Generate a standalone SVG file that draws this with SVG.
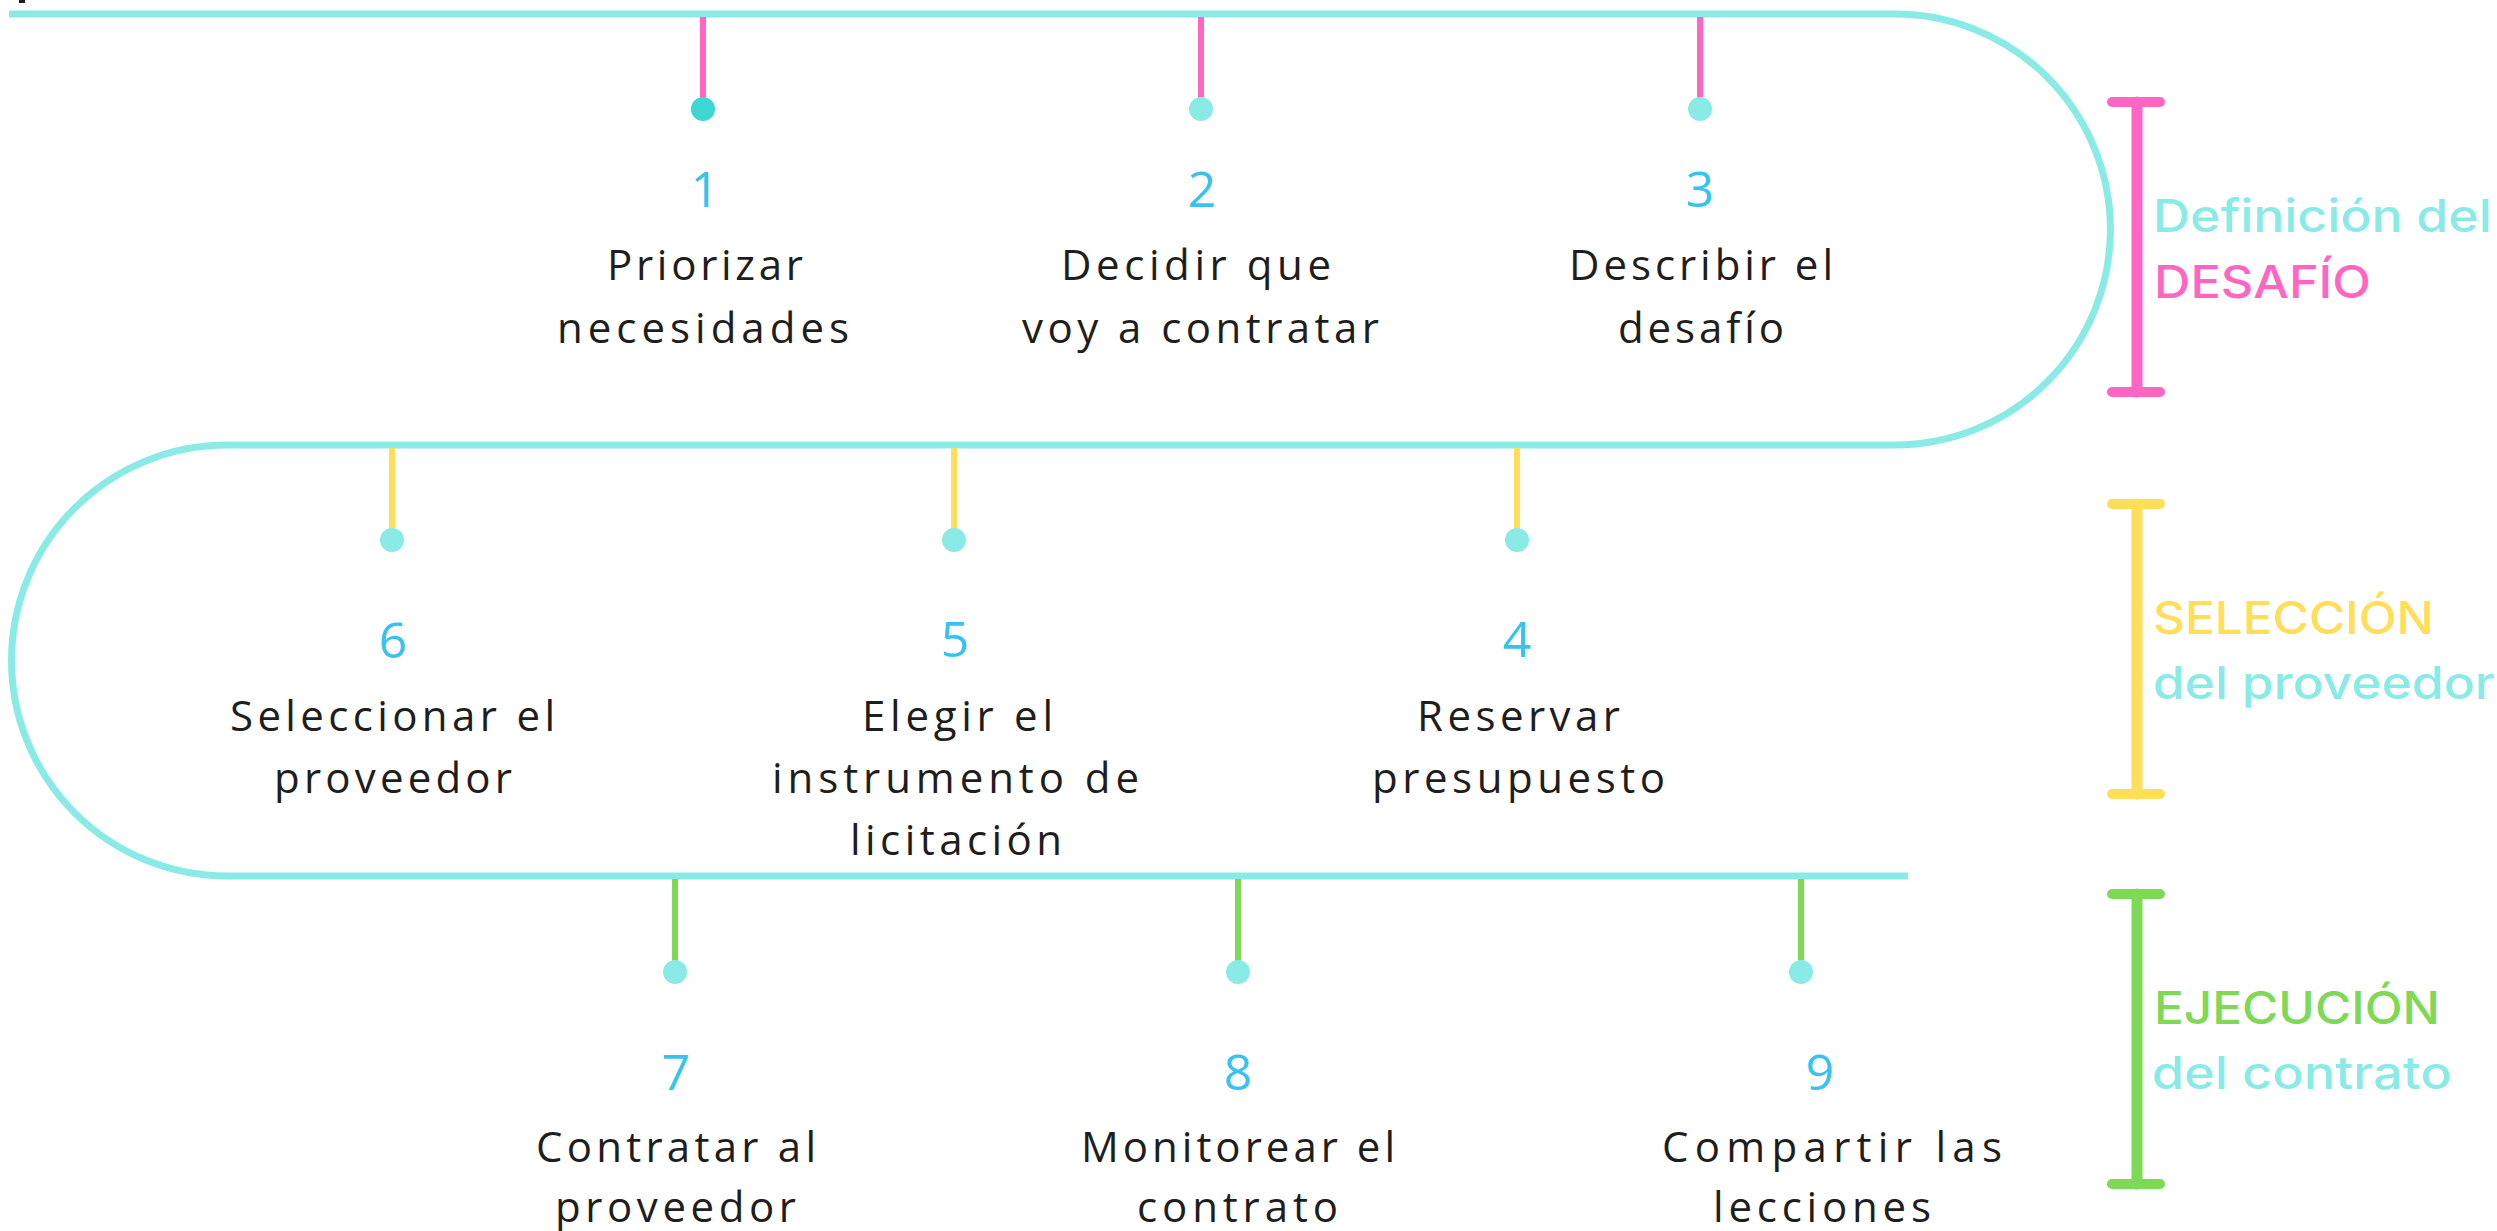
<svg xmlns="http://www.w3.org/2000/svg" width="2497" height="1231" viewBox="0 0 2497 1231">
<style>
.track{fill:none;stroke:#8AEBE6;stroke-width:7}
.tp{stroke:#FF66C4;stroke-width:6}
.ty{stroke:#FFDE59;stroke-width:6}
.tg{stroke:#7ED957;stroke-width:6}
.dot{fill:#8AEBE6}
.dotd{fill:#3DD8D5}
.num{font-family:"Open Sans","Liberation Sans",sans-serif;font-size:50px;fill:#38C2F2;text-anchor:middle}
.lbl{font-family:"Open Sans","Liberation Sans",sans-serif;font-size:42px;fill:#1E1E1E}
.side{font-family:Inter,"Open Sans","Liberation Sans",sans-serif;font-size:45px;font-weight:500}
.bp{stroke:#FF66C4;stroke-linecap:round;fill:none}
.by{stroke:#FFDE59;stroke-linecap:round;fill:none}
.bg{stroke:#7ED957;stroke-linecap:round;fill:none}
</style>
<rect x="0" y="0" width="2497" height="1231" fill="#FFFFFF"/>
<rect x="19" y="0" width="6" height="3" fill="#1E1E1E"/>
<g id="connectors">
<path class="track" d="M 9 14 H 1895 A 215.5 215.5 0 0 1 1895 445 H 227 A 215.5 215.5 0 0 0 227 876 H 1908"/>
</g>
<g id="step1">
<line class="tp" x1="703" y1="17" x2="703" y2="105"/>
<circle class="dotd" cx="703" cy="109" r="12"/>
<text class="num" x="705" y="207">1</text>
<text class="lbl" x="607" y="280" textLength="196" lengthAdjust="spacing">Priorizar</text>
<text class="lbl" x="557" y="343" textLength="292" lengthAdjust="spacing">necesidades</text>
</g>
<g id="step2">
<line class="tp" x1="1201" y1="17" x2="1201" y2="105"/>
<circle class="dot" cx="1201" cy="109" r="12"/>
<text class="num" x="1202" y="207">2</text>
<text class="lbl" x="1061" y="280" textLength="270" lengthAdjust="spacing">Decidir que</text>
<text class="lbl" x="1022" y="343" textLength="357" lengthAdjust="spacing">voy a contratar</text>
</g>
<g id="step3">
<line class="tp" x1="1700" y1="17" x2="1700" y2="105"/>
<circle class="dot" cx="1700" cy="109" r="12"/>
<text class="num" x="1700" y="207">3</text>
<text class="lbl" x="1569" y="280" textLength="264" lengthAdjust="spacing">Describir el</text>
<text class="lbl" x="1618" y="343" textLength="166" lengthAdjust="spacing">desafío</text>
</g>
<g id="step4">
<line class="ty" x1="1517" y1="448" x2="1517" y2="536"/>
<circle class="dot" cx="1517" cy="540" r="12"/>
<text class="num" x="1517" y="657">4</text>
<text class="lbl" x="1417" y="731" textLength="203" lengthAdjust="spacing">Reservar</text>
<text class="lbl" x="1372" y="793" textLength="293" lengthAdjust="spacing">presupuesto</text>
</g>
<g id="step5">
<line class="ty" x1="954" y1="448" x2="954" y2="536"/>
<circle class="dot" cx="954" cy="540" r="12"/>
<text class="num" x="955" y="657">5</text>
<text class="lbl" x="862" y="731" textLength="191" lengthAdjust="spacing">Elegir el</text>
<text class="lbl" x="772" y="793" textLength="367" lengthAdjust="spacing">instrumento de</text>
<text class="lbl" x="850" y="855" textLength="212" lengthAdjust="spacing">licitación</text>
</g>
<g id="step6">
<line class="ty" x1="392" y1="448" x2="392" y2="536"/>
<circle class="dot" cx="392" cy="540" r="12"/>
<text class="num" x="393" y="658">6</text>
<text class="lbl" x="230" y="731" textLength="325" lengthAdjust="spacing">Seleccionar el</text>
<text class="lbl" x="274" y="793" textLength="238" lengthAdjust="spacing">proveedor</text>
</g>
<g id="step7">
<line class="tg" x1="675" y1="879" x2="675" y2="968"/>
<circle class="dot" cx="675" cy="972" r="12"/>
<text class="num" x="676" y="1090">7</text>
<text class="lbl" x="536" y="1162" textLength="280" lengthAdjust="spacing">Contratar al</text>
<text class="lbl" x="555" y="1222" textLength="241" lengthAdjust="spacing">proveedor</text>
</g>
<g id="step8">
<line class="tg" x1="1238" y1="879" x2="1238" y2="968"/>
<circle class="dot" cx="1238" cy="972" r="12"/>
<text class="num" x="1238" y="1090">8</text>
<text class="lbl" x="1081" y="1162" textLength="314" lengthAdjust="spacing">Monitorear el</text>
<text class="lbl" x="1137" y="1222" textLength="201" lengthAdjust="spacing">contrato</text>
</g>
<g id="step9">
<line class="tg" x1="1801" y1="879" x2="1801" y2="968"/>
<circle class="dot" cx="1801" cy="972" r="12"/>
<text class="num" x="1820" y="1090">9</text>
<text class="lbl" x="1662" y="1162" textLength="340" lengthAdjust="spacing">Compartir las</text>
<text class="lbl" x="1713" y="1222" textLength="218" lengthAdjust="spacing">lecciones</text>
</g>
<g id="phase-definicion">
<line class="bp" x1="2137" y1="102" x2="2137" y2="392" stroke-width="11"/>
<line class="bp" x1="2112" y1="102" x2="2160" y2="102" stroke-width="10"/>
<line class="bp" x1="2112" y1="392" x2="2160" y2="392" stroke-width="10"/>
<text class="side" x="2153" y="232" fill="#8AEBE6" textLength="339" lengthAdjust="spacingAndGlyphs">Definición del</text>
<text class="side" x="2154" y="298" fill="#FF66C4" textLength="217" lengthAdjust="spacingAndGlyphs">DESAFÍO</text>
</g>
<g id="phase-seleccion">
<line class="by" x1="2137" y1="504" x2="2137" y2="794" stroke-width="11"/>
<line class="by" x1="2112" y1="504" x2="2160" y2="504" stroke-width="10"/>
<line class="by" x1="2112" y1="794" x2="2160" y2="794" stroke-width="10"/>
<text class="side" x="2153" y="634" fill="#FFDE59" textLength="281" lengthAdjust="spacingAndGlyphs">SELECCIÓN</text>
<text class="side" x="2153" y="699" fill="#8AEBE6" textLength="342" lengthAdjust="spacingAndGlyphs">del proveedor</text>
</g>
<g id="phase-ejecucion">
<line class="bg" x1="2137" y1="894" x2="2137" y2="1184" stroke-width="11"/>
<line class="bg" x1="2112" y1="894" x2="2160" y2="894" stroke-width="10"/>
<line class="bg" x1="2112" y1="1184" x2="2160" y2="1184" stroke-width="10"/>
<text class="side" x="2154" y="1024" fill="#7ED957" textLength="286" lengthAdjust="spacingAndGlyphs">EJECUCIÓN</text>
<text class="side" x="2152" y="1089" fill="#8AEBE6" textLength="300" lengthAdjust="spacingAndGlyphs">del contrato</text>
</g>
</svg>
